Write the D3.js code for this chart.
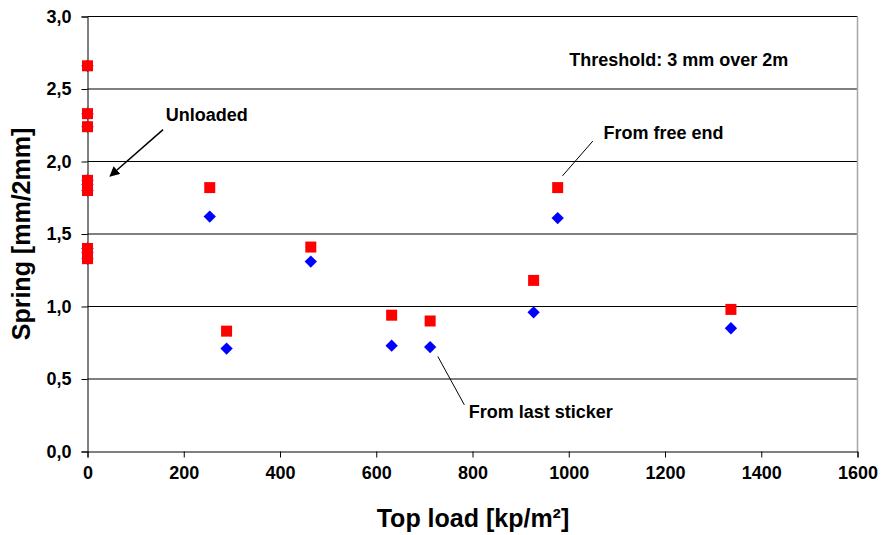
<!DOCTYPE html>
<html>
<head>
<meta charset="utf-8">
<script src="https://cdn.jsdelivr.net/npm/d3@7"></script>
<style>
  body { margin: 0; background: #fff; }
  svg { display: block; font-family: "Liberation Sans", Arial, sans-serif; font-weight: bold; }
</style>
</head>
<body>
<svg id="chart" width="884" height="535"></svg>
<script>
// Spring vs top load, two measuring methods
var loadFree = [0, 0, 0, 0, 0, 0, 0, 0, 0, 254, 289, 464, 632, 712, 927, 977, 1337];
var springFree = [2.66, 2.33, 2.24, 1.87, 1.84, 1.80, 1.40, 1.37, 1.33, 1.82, 0.83, 1.41, 0.94, 0.90, 1.18, 1.82, 0.98];

var loadSticker = [0, 0, 0, 0, 0, 0, 0, 0, 0, 254, 289, 464, 632, 712, 927, 977, 1337];
var springSticker = [2.66, 2.33, 2.24, 1.87, 1.84, 1.80, 1.40, 1.37, 1.33, 1.62, 0.71, 1.31, 0.73, 0.72, 0.96, 1.61, 0.85];

var xTicks = [0, 200, 400, 600, 800, 1000, 1200, 1400, 1600];
var yTicks = [0, 0.5, 1.0, 1.5, 2.0, 2.5, 3.0];

// annotations in data units: label, text position, line start, line end
var notes = [
    { text: "Unloaded", tx: 248, ty: 2.325, anchor: "middle", x1: 157, y1: 2.22, x2: 47, y2: 1.90, arrow: true },
    { text: "From free end", tx: 1072, ty: 2.198, anchor: "start", x1: 1050, y1: 2.141, x2: 987, y2: 1.901, arrow: false },
    { text: "From last sticker", tx: 792, ty: 0.276, anchor: "start", x1: 728, y1: 0.655, x2: 783, y2: 0.322, arrow: false },
    { text: "Threshold: 3 mm over 2m", tx: 1001, ty: 2.70, anchor: "start" }
];

var svg = d3.select("#chart");

var x = d3.scaleLinear().domain([0, 1600]).range([87.5, 857.5]);
var y = d3.scaleLinear().domain([0, 3]).range([451.5, 16.5]);

svg.append("defs").append("marker")
    .attr("id", "arrow")
    .attr("viewBox", "0 0 10 10")
    .attr("refX", 9).attr("refY", 5)
    .attr("markerWidth", 10).attr("markerHeight", 10)
    .attr("markerUnits", "userSpaceOnUse")
    .attr("orient", "auto")
    .append("path")
    .attr("d", "M0,0L10,5L0,10z")
    .attr("fill", "#000");

// gridlines
svg.append("g")
    .selectAll("line")
    .data(yTicks.filter(function(d) { return d > 0; }))
    .enter().append("line")
    .attr("x1", x(0)).attr("x2", x(1600))
    .attr("y1", function(d) { return y(d); })
    .attr("y2", function(d) { return y(d); })
    .attr("stroke", "#000")
    .attr("stroke-width", 1);

// right border
svg.append("line")
    .attr("x1", x(1600)).attr("x2", x(1600))
    .attr("y1", y(3)).attr("y2", y(0))
    .attr("stroke", "#a6a6a6")
    .attr("stroke-width", 1.5);

var xAxis = svg.append("g")
    .attr("transform", "translate(0," + y(0) + ")")
    .call(d3.axisBottom(x).tickValues(xTicks).tickSize(6).tickPadding(9).tickFormat(d3.format("d")));

var yAxis = svg.append("g")
    .attr("transform", "translate(" + x(0) + ",0)")
    .call(d3.axisLeft(y).tickValues(yTicks).tickSize(6).tickPadding(10)
        .tickFormat(function(d) { return d3.format(".1f")(d).replace(".", ","); }));

[xAxis, yAxis].forEach(function(a) {
    a.select(".domain").attr("stroke", "#000");
    a.selectAll(".tick line").attr("stroke", "#000");
    a.selectAll(".tick text")
        .attr("fill", "#000")
        .style("font-size", "18px")
        .style("font-weight", "bold")
        .style("font-family", "'Liberation Sans', Arial, sans-serif");
});

// axis titles
svg.append("text")
    .attr("x", 473).attr("y", 527)
    .attr("text-anchor", "middle")
    .style("font-size", "25px")
    .text("Top load [kp/m²]");

svg.append("text")
    .attr("transform", "translate(30,234) rotate(-90)")
    .attr("text-anchor", "middle")
    .style("font-size", "25px")
    .text("Spring [mm/2mm]");

// markers: diamonds under squares
var diamond = d3.symbol().type(d3.symbolSquare).size(76);

svg.append("g")
    .selectAll("path")
    .data(d3.range(loadSticker.length))
    .enter().append("path")
    .attr("d", diamond)
    .attr("transform", function(i) { return "translate(" + x(loadSticker[i]) + "," + y(springSticker[i]) + ") rotate(45)"; })
    .attr("fill", "#0000ff");

svg.append("g")
    .selectAll("rect")
    .data(d3.range(loadFree.length))
    .enter().append("rect")
    .attr("x", function(i) { return x(loadFree[i]) - 5.5; })
    .attr("y", function(i) { return y(springFree[i]) - 5.5; })
    .attr("width", 11).attr("height", 11)
    .attr("fill", "#ff0000");

// annotations
var ann = svg.append("g");
notes.forEach(function(n) {
    if (n.x1 !== undefined) {
        ann.append("line")
            .attr("x1", x(n.x1)).attr("y1", y(n.y1))
            .attr("x2", x(n.x2)).attr("y2", y(n.y2))
            .attr("stroke", "#000")
            .attr("stroke-width", n.arrow ? 1.5 : 1)
            .attr("marker-end", n.arrow ? "url(#arrow)" : null);
    }
    ann.append("text")
        .attr("x", x(n.tx)).attr("y", y(n.ty))
        .attr("dy", "0.36em")
        .attr("text-anchor", n.anchor)
        .style("font-size", "18px")
        .text(n.text);
});
</script>
</body>
</html>
